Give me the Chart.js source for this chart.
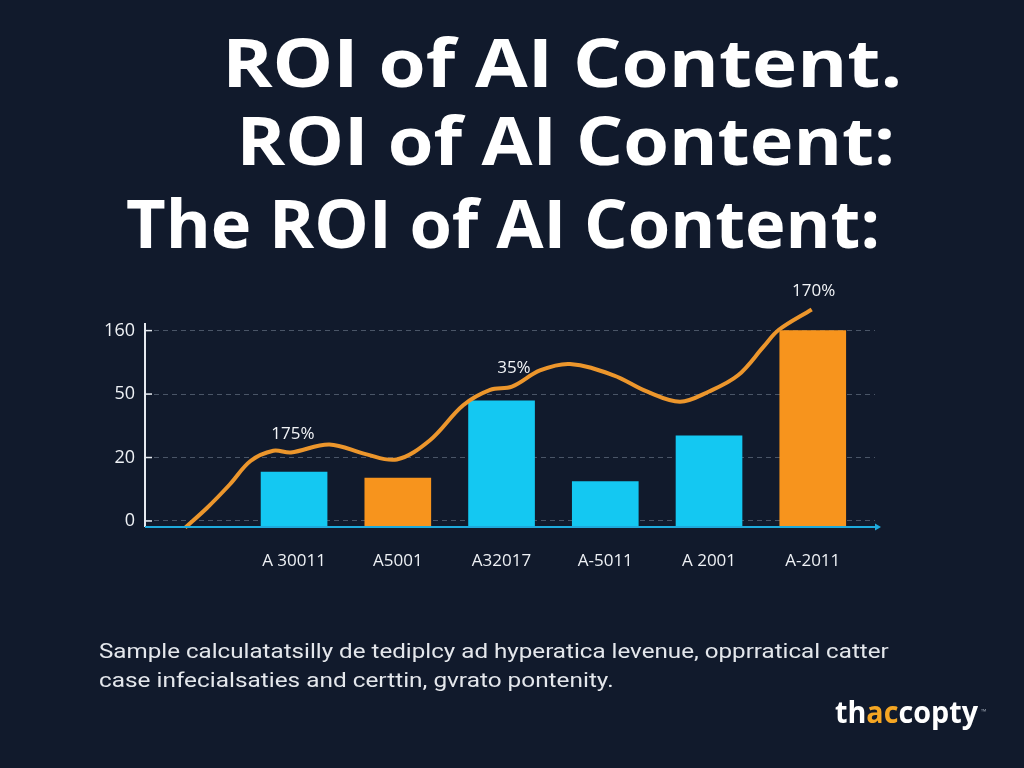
<!DOCTYPE html>
<html>
<head>
<meta charset="utf-8">
<script src="https://cdn.jsdelivr.net/npm/chart.js@4"></script>
<style>
  html, body { margin: 0; padding: 0; background: #111a2c; }
  #c { display: block; }
</style>
</head>
<body>
<canvas id="c" width="1024" height="768"></canvas>
<script>
// ---------- DATA ----------
const categories = ["A 30011", "A5001", "A32017", "A-5011", "A 2001", "A-2011"];
const barValues = [15.4, 13.5, 46.8, 12.4, 30.2, 160];
const yTickValues = [0, 20, 50, 160];
const yTickLabels = ["0", "20", "50", "160"];
// smooth trend line (x in category slots, y in axis value units)
const lineX = [-0.05, 0.16, 0.38, 0.58, 0.80, 0.97, 1.34, 1.69, 1.99, 2.31, 2.63, 2.89, 3.10, 3.37, 3.66, 4.08, 4.40, 4.72, 5.00, 5.28, 5.53, 5.67, 5.99];
const lineY = [-2.1, 4.1, 11.5, 18.9, 23.2, 22.4, 26.2, 21.6, 19.4, 28.2, 44.7, 57.2, 63.0, 90.9, 102.2, 82.5, 54.5, 46.4, 54.5, 82.5, 133, 161, 196.7];
const lineLabels = ["", "", "", "", "", "175%", "", "", "", "", "", "", "35%", "", "", "", "", "", "", "", "", "", "170%"];
const titleLines = ["ROI of AI Content.", "ROI of AI Content:", "The ROI of AI Content:"];
const footerLines = [
  "Sample calculatatsilly de tediplcy ad hyperatica levenue, opprratical catter",
  "case infecialsaties and certtin, gvrato pontenity."
];

// ---------- STYLE ----------
const BG = "#111a2c";
const CYAN = "#14c8f2";
const ORANGE = "#f7941d";
const LINE_ORANGE = "#ec962c";
const barColors = [CYAN, ORANGE, CYAN, CYAN, CYAN, ORANGE];
const Y_MIN = -0.095, Y_MAX = 3.12;

// piecewise mapping of a value onto the evenly spaced (non-linear) tick axis
function toAxis(v) {
  const t = yTickValues;
  let i = 0;
  if (v <= t[1]) i = 0;
  else if (v >= t[t.length - 2]) i = t.length - 2;
  else { while (v > t[i + 1]) i++; }
  return i + (v - t[i]) / (t[i + 1] - t[i]);
}

function fitText(ctx, text, x, y, width, font, color) {
  ctx.save();
  ctx.font = font;
  ctx.fillStyle = color;
  ctx.textBaseline = "alphabetic";
  ctx.textAlign = "left";
  const m = ctx.measureText(text);
  const w = m.actualBoundingBoxRight + m.actualBoundingBoxLeft;
  const s = width / w;
  ctx.translate(x, y);
  ctx.scale(s, 1);
  ctx.fillText(text, m.actualBoundingBoxLeft, 0);
  ctx.restore();
}

const decor = {
  id: "decor",
  beforeDraw(chart) {
    const ctx = chart.ctx;
    ctx.save();
    ctx.fillStyle = BG;
    ctx.fillRect(0, 0, chart.width, chart.height);
    ctx.restore();
  },
  afterDatasetsDraw(chart) {
    const ctx = chart.ctx;
    const a = chart.chartArea;
    const ys = chart.scales.y;
    // y axis line + small ticks
    ctx.save();
    ctx.strokeStyle = "#e6eaf0";
    ctx.lineWidth = 2;
    ctx.beginPath();
    ctx.moveTo(a.left, a.top);
    ctx.lineTo(a.left, a.bottom);
    ctx.stroke();
    ctx.lineWidth = 1.5;
    yTickValues.forEach((v, i) => {
      const py = ys.getPixelForValue(i);
      ctx.beginPath();
      ctx.moveTo(a.left, py);
      ctx.lineTo(a.left + 7, py);
      ctx.stroke();
    });
    // baseline with arrow
    ctx.strokeStyle = "#1ea9dc";
    ctx.fillStyle = "#1ea9dc";
    ctx.lineWidth = 2;
    ctx.beginPath();
    ctx.moveTo(a.left, a.bottom);
    ctx.lineTo(a.right + 2, a.bottom);
    ctx.stroke();
    ctx.beginPath();
    ctx.moveTo(a.right + 6, a.bottom);
    ctx.lineTo(a.right, a.bottom - 3.5);
    ctx.lineTo(a.right, a.bottom + 3.5);
    ctx.closePath();
    ctx.fill();
    ctx.restore();

    // line labels
    const meta = chart.getDatasetMeta(1);
    ctx.save();
    ctx.font = "17px 'Open Sans'";
    ctx.fillStyle = "#f2f4f7";
    ctx.textAlign = "center";
    ctx.textBaseline = "middle";
    lineLabels.forEach((t, i) => {
      if (!t) return;
      const p = meta.data[i];
      ctx.fillText(t, p.x + 2, p.y - 18);
    });
    ctx.restore();
  },
  afterDraw(chart) {
    const ctx = chart.ctx;
    const tf = "bold 66px 'Open Sans'";
    fitText(ctx, titleLines[0], 228, 87, 671, tf, "#ffffff");
    fitText(ctx, titleLines[1], 242, 165, 650, tf, "#ffffff");
    fitText(ctx, titleLines[2], 127, 248, 750, tf, "#ffffff");
    const ff = "20px Roboto";
    fitText(ctx, footerLines[0], 99, 658, 790, ff, "#e4e7ec");
    fitText(ctx, footerLines[1], 99, 687, 513, ff, "#e4e7ec");
    // logo
    ctx.save();
    ctx.font = "bold 30px 'Open Sans'";
    ctx.textBaseline = "alphabetic";
    const parts = [["th", "#ffffff"], ["ac", "#f5a623"], ["copty", "#ffffff"]];
    const total = ctx.measureText("thaccopty").width;
    const s = 143 / total;
    ctx.translate(835, 723);
    ctx.scale(s, 1);
    let x = 0;
    parts.forEach(([t, c]) => {
      ctx.fillStyle = c;
      ctx.fillText(t, x, 0);
      x += ctx.measureText(t).width;
    });
    ctx.restore();
    ctx.save();
    ctx.font = "7px 'Open Sans'";
    ctx.fillStyle = "#9aa3b0";
    ctx.fillText("™", 981, 714);
    ctx.restore();
  }
};

const chart = new Chart(document.getElementById("c"), {
  data: {
    datasets: [
      {
        type: "bar",
        data: barValues.map((v, i) => ({ x: i + 1, y: [Y_MIN, toAxis(v)] })),
        backgroundColor: barColors,
        borderWidth: 0,
        barThickness: 66,
        order: 2
      },
      {
        type: "line",
        data: lineX.map((x, i) => ({ x: x, y: toAxis(lineY[i]) })),
        borderColor: LINE_ORANGE,
        borderWidth: 4,
        tension: 0.35,
        fill: false,
        clip: false,
        pointRadius: ctx => (ctx.dataIndex === lineX.length - 1 ? 3.5 : 0),
        pointBackgroundColor: LINE_ORANGE,
        pointBorderWidth: 0,
        order: 1
      }
    ]
  },
  options: {
    responsive: false,
    animation: false,
    devicePixelRatio: 1,
    layout: { padding: { top: 323, right: 149, left: 0, bottom: 0 } },
    plugins: { legend: { display: false }, tooltip: { enabled: false }, title: { display: false } },
    scales: {
      x: {
        type: "linear",
        offset: false,
        min: -0.437,
        max: 6.6,
        grid: { display: false, drawTicks: false, offset: false },
        border: { display: false },
        afterBuildTicks: s => { s.ticks = categories.map((c, i) => ({ value: i + 1 })); },
        afterFit: s => { s.height = 241; },
        ticks: {
          padding: 24,
          autoSkip: false,
          maxRotation: 0,
          color: "#eef1f5",
          font: { family: "'Open Sans'", size: 17 },
          callback: v => categories[v - 1]
        }
      },
      y: {
        type: "linear",
        min: Y_MIN,
        max: Y_MAX,
        grid: { color: "#4a5567", lineWidth: 1, drawTicks: false },
        border: { display: false, dash: [5, 4] },
        afterBuildTicks: s => { s.ticks = yTickValues.map((v, i) => ({ value: i })); },
        afterFit: s => { s.width = 145; },
        ticks: {
          padding: 10,
          color: "#eef1f5",
          font: { family: "'Open Sans'", size: 18 },
          callback: v => yTickLabels[v]
        }
      }
    }
  },
  plugins: [decor]
});
</script>
</body>
</html>
